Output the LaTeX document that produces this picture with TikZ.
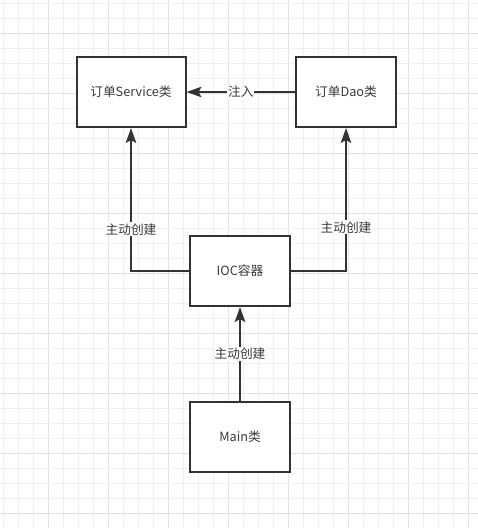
\documentclass[tikz,border=0pt]{standalone}
\usepackage{fontspec}
\setmainfont{Noto Sans CJK SC}
\usetikzlibrary{arrows.meta}
\definecolor{ink}{HTML}{333333}
\definecolor{txt}{HTML}{3A3A3A}
\definecolor{gminor}{HTML}{F0F0F0}
\definecolor{gmajor}{HTML}{E2E2E2}
\tikzset{
  box/.style={draw=ink, line width=2pt, fill=white, inner sep=0pt, text=txt, font=\fontsize{12.7}{15}\selectfont},
  conn/.style={draw=ink, line width=2pt, -{Stealth[length=15pt,width=10.5pt,inset=3pt]}},
  lbl/.style={fill=white, text=txt, inner sep=1pt, font=\fontsize{12.7}{15}\selectfont}
}
\begin{document}
\begin{tikzpicture}[x=1pt,y=-1pt]
\useasboundingbox (0,0) rectangle (478,528);
\fill[white] (0,0) rectangle (478,528);
% grid
\foreach \k in {0,...,31} {
  \pgfmathsetmacro{\gx}{3.3+15*\k}
  \pgfmathtruncatemacro{\m}{mod(\k,4)}
  \ifnum\m=3
    \draw[gmajor, line width=1pt] (\gx,0) -- (\gx,528);
  \else
    \draw[gminor, line width=1pt] (\gx,0) -- (\gx,528);
  \fi
}
\foreach \k in {0,...,35} {
  \pgfmathsetmacro{\gy}{3.3+15*\k}
  \pgfmathtruncatemacro{\m}{mod(\k,4)}
  \ifnum\m=2
    \draw[gmajor, line width=1pt] (0,\gy) -- (478,\gy);
  \else
    \draw[gminor, line width=1pt] (0,\gy) -- (478,\gy);
  \fi
}
% nodes
\node[box, minimum width=109pt, minimum height=70pt] (svc) at (131,92) {订单Service类};
\node[box, minimum width=100pt, minimum height=70pt] (dao) at (346,92) {订单Dao类};
\node[box, minimum width=100pt, minimum height=70pt] (ioc) at (240,271) {IOC容器};
\node[box, minimum width=100pt, minimum height=70pt] (main) at (240,437) {Main类};
% connectors
\draw[conn] (dao.west) -- node[lbl] {注入} (svc.east);
\draw[conn] (ioc.west) -| node[lbl, pos=0.646] {主动创建} (svc.south);
\draw[conn] (ioc.east) -| node[lbl, pos=0.653] {主动创建} (dao.south);
\draw[conn] (main.north) -- node[lbl] {主动创建} (ioc.south);
\end{tikzpicture}
\end{document}
